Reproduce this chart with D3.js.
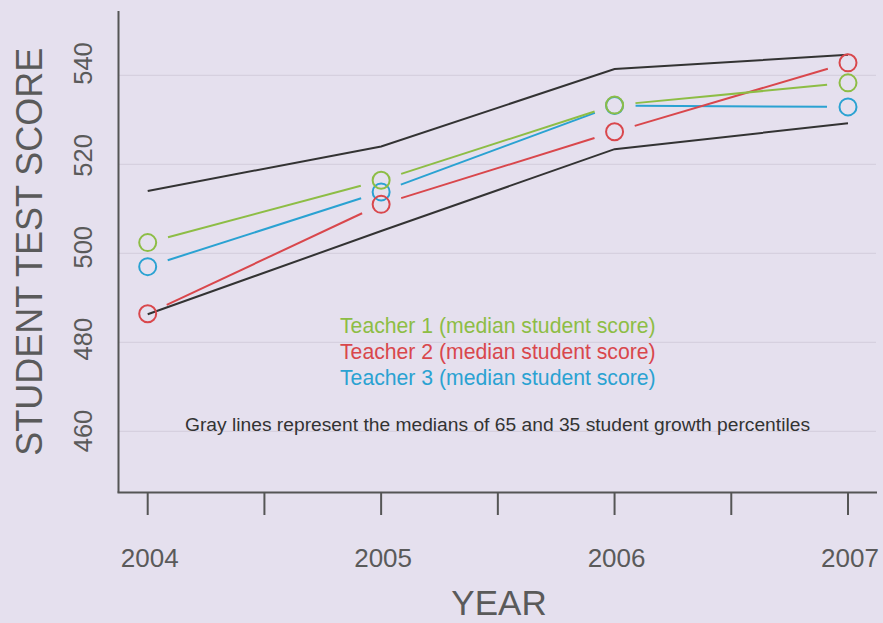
<!DOCTYPE html>
<html>
<head>
<meta charset="utf-8">
<script src="https://cdn.jsdelivr.net/npm/d3@7"></script>
<style>
  body { margin: 0; background: #e5e0ee; }
  svg { display: block; font-family: "Liberation Sans", Arial, sans-serif; }
</style>
</head>
<body>
<div id="chart"></div>
<script>
var years = [2004, 2005, 2006, 2007];
var halfTicks = [2004, 2004.5, 2005, 2005.5, 2006, 2006.5, 2007];
var yTicks = [460, 480, 500, 520, 540];

// median student score per teacher
var teacher1 = [502.4, 516.4, 533.3, 538.3];
var teacher2 = [486.4, 511.0, 527.3, 542.8];
var teacher3 = [497.0, 513.8, 533.2, 532.9];

// medians of 65 and 35 student growth percentiles
var upper65 = [514.0, 524.0, 541.4, 544.6];
var lower35 = [486.3, 505.0, 523.4, 529.2];

var teacherNames = [
    'Teacher 1 (median student score)',
    'Teacher 2 (median student score)',
    'Teacher 3 (median student score)'
];
var teacherColors = ['#8dbd45', '#d9474c', '#2aa2d2'];

var width = 883, height = 623;

var svg = d3.select('#chart').append('svg')
    .attr('width', width)
    .attr('height', height);

svg.append('rect').attr('width', width).attr('height', height).attr('fill', '#e5e0ee');

var x = d3.scaleLinear().domain([2004, 2007]).range([147.7, 848]);
var y = d3.scaleLinear().domain([460, 540]).range([431.3, 75.3]);
// tick labels sit on a slightly wider spacing than the grid in the original
var yLab = d3.scaleLinear().domain([460, 540]).range([431, 63.5]);

var axisLeftX = 118.5, axisBottomY = 492.5;

// grid
svg.append('g')
    .selectAll('line')
    .data(yTicks)
    .enter().append('line')
    .attr('x1', axisLeftX).attr('x2', 876)
    .attr('y1', d => y(d)).attr('y2', d => y(d))
    .attr('stroke', '#d6d0df').attr('stroke-width', 1.2);

// axes
svg.append('line')
    .attr('x1', axisLeftX).attr('x2', axisLeftX)
    .attr('y1', 11).attr('y2', axisBottomY)
    .attr('stroke', '#555').attr('stroke-width', 2);
svg.append('line')
    .attr('x1', axisLeftX - 1).attr('x2', 877)
    .attr('y1', axisBottomY).attr('y2', axisBottomY)
    .attr('stroke', '#555').attr('stroke-width', 2);

svg.append('g')
    .selectAll('line')
    .data(halfTicks)
    .enter().append('line')
    .attr('x1', d => x(d)).attr('x2', d => x(d))
    .attr('y1', axisBottomY).attr('y2', 515)
    .attr('stroke', '#555').attr('stroke-width', 2);

svg.append('g')
    .selectAll('text')
    .data(years)
    .enter().append('text')
    .attr('x', d => x(d) + 2)
    .attr('y', 566.5)
    .attr('text-anchor', 'middle')
    .attr('font-size', 26)
    .attr('fill', '#5a5a5a')
    .text(d => d);

svg.append('g')
    .selectAll('text')
    .data(yTicks)
    .enter().append('text')
    .attr('transform', d => `translate(92,${yLab(d)}) rotate(-90)`)
    .attr('text-anchor', 'middle')
    .attr('font-size', 25.5)
    .attr('fill', '#5a5a5a')
    .text(d => d);

// axis titles
svg.append('text')
    .attr('transform', 'translate(42,251.7) rotate(-90)')
    .attr('text-anchor', 'middle')
    .attr('font-size', 36)
    .attr('fill', '#5a5a5a')
    .text('STUDENT TEST SCORE');

svg.append('text')
    .attr('x', 499).attr('y', 615)
    .attr('text-anchor', 'middle')
    .attr('font-size', 35)
    .attr('fill', '#5a5a5a')
    .text('YEAR');

// percentile lines
var line = d3.line().x((d, i) => x(years[i])).y(d => y(d));
[upper65, lower35].forEach(function(s) {
    svg.append('path')
        .attr('d', line(s))
        .attr('fill', 'none')
        .attr('stroke', '#333')
        .attr('stroke-width', 2);
});

// teacher series, drawn as points with gapped segments
var gap = 21;
function drawSeries(values, color) {
    var g = svg.append('g');
    var pts = values.map((v, i) => [x(years[i]), y(v)]);
    for (var i = 0; i < pts.length - 1; i++) {
        var a = pts[i], b = pts[i + 1];
        var dx = b[0] - a[0], dy = b[1] - a[1];
        var len = Math.sqrt(dx * dx + dy * dy);
        var ux = dx / len, uy = dy / len;
        g.append('line')
            .attr('x1', a[0] + ux * gap).attr('y1', a[1] + uy * gap)
            .attr('x2', b[0] - ux * gap).attr('y2', b[1] - uy * gap)
            .attr('stroke', color).attr('stroke-width', 2);
    }
    g.selectAll('circle')
        .data(values)
        .enter().append('circle')
        .attr('cx', (d, i) => x(years[i]))
        .attr('cy', d => y(d))
        .attr('r', 8.5)
        .attr('fill', 'none')
        .attr('stroke', color)
        .attr('stroke-width', 2);
}
drawSeries(teacher3, teacherColors[2]);
drawSeries(teacher2, teacherColors[1]);
drawSeries(teacher1, teacherColors[0]);

// legend
svg.append('g')
    .selectAll('text')
    .data(teacherNames)
    .enter().append('text')
    .attr('x', 340)
    .attr('y', (d, i) => 333 + i * 26)
    .attr('font-size', 21.2)
    .attr('fill', (d, i) => teacherColors[i])
    .text(d => d);

svg.append('text')
    .attr('x', 185).attr('y', 431)
    .attr('font-size', 17.5)
    .attr('fill', '#333')
    .attr('textLength', 625)
    .attr('lengthAdjust', 'spacingAndGlyphs')
    .text('Gray lines represent the medians of 65 and 35 student growth percentiles');
</script>
</body>
</html>
